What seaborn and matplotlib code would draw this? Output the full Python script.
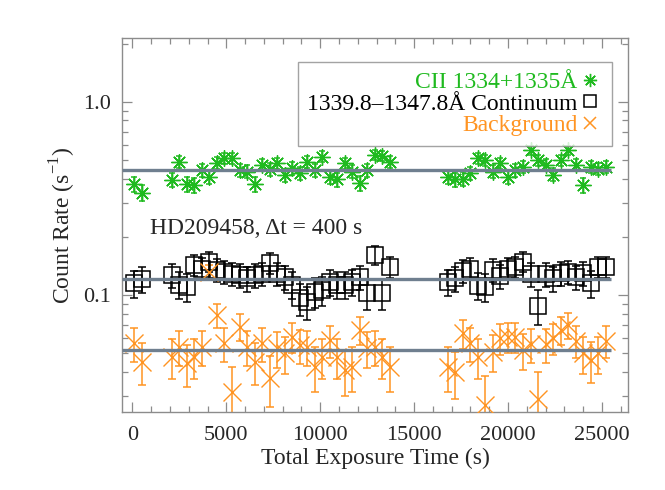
import numpy as np
import matplotlib
matplotlib.use('Agg')
import matplotlib.pyplot as plt
import seaborn as sns
from matplotlib.lines import Line2D
from matplotlib.ticker import MultipleLocator, LogLocator, NullFormatter

# exposure time of each 400 s bin (s)
t_first = [100, 500, 2100, 2500, 2900, 3300, 3700, 4100, 4500, 4900, 5300, 5700,
           6100, 6500, 6900, 7300, 7700, 8100, 8500, 8900, 9300, 9700, 10100, 10500,
           10900, 11300, 11700, 12100, 12500, 12900, 13300, 13700]
t_second = [16800, 17200, 17600, 18000, 18400, 18800, 19200, 19600, 20000, 20400, 20800,
            21200, 21600, 22000, 22400, 22800, 23200, 23600, 24000, 24400, 24800, 25200]

# CII 1334+1335 count rate
cii_rate = [0.375, 0.338, 0.394, 0.489, 0.375, 0.371, 0.443, 0.41, 0.484, 0.51, 0.51, 0.443,
            0.435, 0.375, 0.47, 0.447, 0.48, 0.418, 0.452, 0.426, 0.489, 0.443, 0.52, 0.41,
            0.397, 0.48, 0.435, 0.378, 0.443, 0.53, 0.524, 0.489,
            0.41, 0.397, 0.40, 0.426, 0.51, 0.50, 0.435, 0.48, 0.41, 0.443, 0.46,
            0.56, 0.50, 0.47, 0.42, 0.50, 0.56, 0.47, 0.37, 0.46, 0.45, 0.46]
# continuum count rate
cont_rate = [0.115, 0.121, 0.127, 0.113, 0.110, 0.143, 0.137, 0.149, 0.135, 0.132, 0.129, 0.127,
             0.122, 0.127, 0.129, 0.146, 0.129, 0.124, 0.113, 0.096, 0.092, 0.104, 0.106, 0.117,
             0.113, 0.113, 0.117, 0.124, 0.102, 0.161, 0.102, 0.14,
             0.117, 0.122, 0.133, 0.137, 0.112, 0.110, 0.135, 0.125, 0.137, 0.14, 0.149,
             0.128, 0.088, 0.128, 0.122, 0.13, 0.132, 0.124, 0.13, 0.115, 0.14, 0.14]
# background count rate
bkg_rate = [0.0562, 0.0452, 0.0479, 0.054, 0.0443, 0.0479, 0.054, 0.132, 0.0788, 0.0562, 0.0316, 0.0686,
            0.054, 0.0452, 0.0562, 0.0374, 0.053, 0.05, 0.0609, 0.0551, 0.054, 0.0426, 0.0479, 0.0585,
            0.0479, 0.041, 0.0426, 0.066, 0.053, 0.054, 0.0479, 0.0426,
            0.0426, 0.040, 0.0634, 0.0562, 0.0479, 0.027, 0.0509, 0.0597, 0.0609, 0.0609, 0.052,
            0.0555, 0.029, 0.0555, 0.06, 0.066, 0.07, 0.058, 0.05, 0.046, 0.05, 0.058]

cii_err = 0.033
cont_err = 0.018
bkg_err = 0.011

# mean levels
mean_levels = [0.443, 0.121, 0.052]

labels = ['CII 1334+1335Å', '1339.8–1347.8Å Continuum', 'Background']
colors = ['#1fba1f', 'black', '#ff9422']

sns.set_theme(style='ticks')
plt.rcParams['font.family'] = ['Liberation Serif', 'DejaVu Serif']
plt.rcParams['mathtext.fontset'] = 'custom'
plt.rcParams['mathtext.rm'] = 'Liberation Serif'

times = t_first + t_second

fig = plt.figure(figsize=(6.65, 4.9), dpi=100)
ax = fig.add_axes([0.184, 0.159, 0.76, 0.763])

series = [
    (cii_rate, cii_err, (8, 2, 0), 11.5, 2.5),
    (cont_rate, cont_err, 's', 12, 3),
    (bkg_rate, bkg_err, 'x', 12.5, 3),
]
for (rate, err, mk, ms, cap), c in zip(series, colors):
    ax.errorbar(times, rate, yerr=err, fmt='none', ecolor=c, elinewidth=1.1,
                capsize=cap, capthick=1.1, zorder=2)
    if mk == 's':
        ax.plot(times, rate, ls='none', marker=mk, ms=ms, mfc='none', mec=c, mew=1.1, zorder=3)
    else:
        ax.plot(times, rate, ls='none', marker=mk, ms=ms, color=c, mew=1.0, zorder=3)

ax.hlines(mean_levels, -540, 25500, color='#6f7f8f', lw=2.4, zorder=4)

ax.set_yscale('log')
ax.set_xlim(-540, 26380)
ax.set_ylim(0.0248, 2.13)
ax.set_yticks([0.1, 1.0])
ax.set_yticklabels(['0.1', '1.0'])
ax.yaxis.set_minor_locator(LogLocator(base=10, subs=np.arange(2, 10)))
ax.yaxis.set_minor_formatter(NullFormatter())
ax.xaxis.set_major_locator(MultipleLocator(5000))
ax.xaxis.set_minor_locator(MultipleLocator(1000))

for s in ax.spines.values():
    s.set_color('#8c8c8c')
    s.set_linewidth(1.0)
ax.tick_params(which='both', direction='in', top=True, right=True, color='#8c8c8c',
               labelsize=16, width=0.9)
ax.tick_params(which='major', length=7)
ax.tick_params(axis='x', which='major', pad=10)
ax.tick_params(axis='y', which='major', pad=8)
ax.tick_params(which='minor', length=4)

ax.set_xlabel('Total Exposure Time (s)', fontsize=17, labelpad=2)
ax.set_ylabel('Count Rate (s$^{-1}$)', fontsize=17, labelpad=4)

ax.text(0.055, 0.492, 'HD209458, Δt = 400 s', transform=ax.transAxes, fontsize=17,
        va='center', ha='left')

handles = [
    Line2D([], [], ls='none', marker=(8, 2, 0), ms=9.5, color=colors[0], mew=1.0),
    Line2D([], [], ls='none', marker='s', ms=8.5, mfc='none', mec=colors[1], mew=1.1),
    Line2D([], [], ls='none', marker='x', ms=9, color=colors[2], mew=1.1),
]
leg = ax.legend(handles, labels, loc='upper right', bbox_to_anchor=(0.968, 0.936),
                borderaxespad=0, markerfirst=False, fontsize=17, frameon=True,
                fancybox=False, handlelength=1.0, handletextpad=0.05, labelspacing=0.0,
                borderpad=0.4)
leg.get_frame().set_edgecolor('#8c8c8c')
leg.get_frame().set_linewidth(1.0)
for txt, c in zip(leg.get_texts(), colors):
    txt.set_color(c)

fig.savefig('out.png', dpi=100)
